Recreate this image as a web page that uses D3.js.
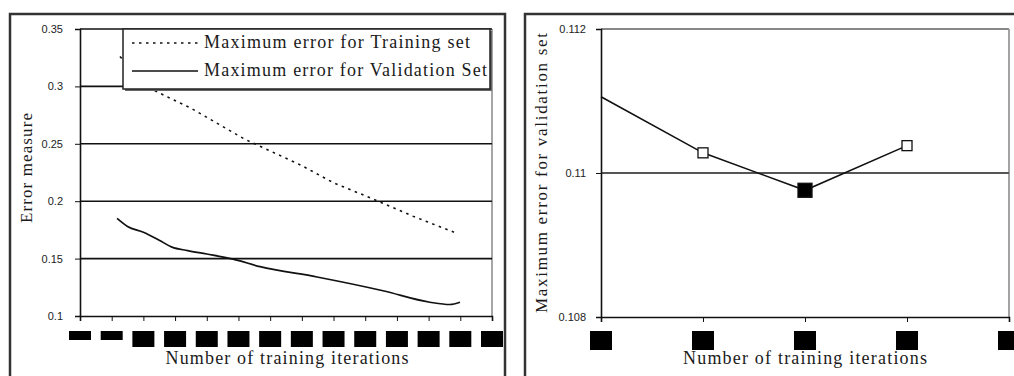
<!DOCTYPE html>
<html>
<head>
<meta charset="utf-8">
<script src="https://cdn.jsdelivr.net/npm/d3@7"></script>
<style>
  body { margin: 0; background: #fff; }
  svg { display: block; }
  .serif { font-family: "Liberation Serif", "DejaVu Serif", serif; fill: #1a1a1a; }
  .tick text { font-family: "Liberation Sans", Arial, sans-serif; font-size: 11px; fill: #222; }
</style>
</head>
<body>
<svg id="chart" width="1014" height="376"></svg>
<script>
// ----- Data ------------------------------------------------------------------
// left panel: error vs training iterations (x in tick units, labels unreadable)
const leftTicks = d3.range(0, 14);
const leftYTicks = [0.1, 0.15, 0.2, 0.25, 0.3, 0.35];
const trainErr = [
    [1.26, 0.326], [2.3, 0.297], [3.5, 0.281], [5.2, 0.254], [7.0, 0.231],
    [8.0, 0.216], [9.2, 0.2025], [10.5, 0.187], [11.8, 0.173]
];
const validErr = [
    [1.17, 0.185], [1.5, 0.178], [2.0, 0.173], [2.5, 0.166], [2.9, 0.160],
    [3.4, 0.157], [4.0, 0.154], [4.83, 0.1495], [5.68, 0.143], [7.48, 0.134],
    [9.56, 0.122], [11.04, 0.112], [11.67, 0.110], [11.99, 0.112]
];
const legendLabels = ["Maximum error for Training set", "Maximum error for Validation Set"];

// right panel: max validation error at a few iteration counts
const rightTicks = d3.range(0, 5);
const rightYTicks = [0.108, 0.11, 0.112];
const rightX = [0, 1, 2, 3];
const rightVal = [0.11106, 0.11028, 0.10976, 0.11038];
const rightMark = ["none", "open", "filled", "open"];

const svg = d3.select("#chart");

// ----- frames ------------------------------------------------------------------
svg.append("rect").attr("x", 10).attr("y", 14).attr("width", 495).attr("height", 380)
    .attr("fill", "none").attr("stroke", "#333").attr("stroke-width", 2.5);
svg.append("rect").attr("x", 525).attr("y", 14).attr("width", 500).attr("height", 380)
    .attr("fill", "none").attr("stroke", "#333").attr("stroke-width", 2.5);

// ----- left panel -------------------------------------------------------------
const xL = d3.scaleLinear().domain([0, 13]).range([80, 492]);
const yL = d3.scaleLinear().domain([0.1, 0.35]).range([316, 29]);
const gL = svg.append("g");

// plot border right side (gray)
gL.append("line").attr("x1", xL(13)).attr("x2", xL(13)).attr("y1", yL(0.35)).attr("y2", yL(0.1))
    .attr("stroke", "#888").attr("stroke-width", 1.5);

// gridlines
gL.selectAll("line.grid").data(leftYTicks.filter((d) => d > 0.1)).join("line")
    .attr("class", "grid")
    .attr("x1", xL(0)).attr("x2", xL(13))
    .attr("y1", (d) => yL(d)).attr("y2", (d) => yL(d))
    .attr("stroke", "#111").attr("stroke-width", 1.6);

// y axis
const yAxisL = gL.append("g").attr("transform", `translate(${xL(0)},0)`)
    .call(d3.axisLeft(yL).tickValues(leftYTicks).tickSize(5).tickPadding(12).tickFormat((d) => String(+d.toFixed(2))));
yAxisL.select(".domain").attr("stroke", "#111").attr("stroke-width", 1.6);
yAxisL.selectAll(".tick line").attr("stroke", "#111");

// x axis
const xAxisL = gL.append("g").attr("transform", `translate(0,${yL(0.1)})`)
    .call(d3.axisBottom(xL).tickValues(leftTicks).tickSize(5).tickFormat(""));
xAxisL.select(".domain").attr("stroke", "#111").attr("stroke-width", 1.6);
xAxisL.selectAll(".tick line").attr("stroke", "#111");

// tick label boxes (glyphs did not render in original)
gL.selectAll("rect.tl").data(leftTicks).join("rect")
    .attr("class", "tl")
    .attr("x", (d) => xL(d) - 11).attr("y", 331)
    .attr("width", 22).attr("height", (d) => (d < 2 ? 9 : 16))
    .attr("fill", "#000");

// lines
const lineL = d3.line().x((d) => xL(d[0])).y((d) => yL(d[1]));
gL.append("path").datum(trainErr).attr("d", lineL)
    .attr("fill", "none").attr("stroke", "#111").attr("stroke-width", 1.6)
    .attr("stroke-dasharray", "2.5,4.5");
gL.append("path").datum(validErr).attr("d", lineL.curve(d3.curveMonotoneX))
    .attr("fill", "none").attr("stroke", "#111").attr("stroke-width", 1.7);

// legend
const lg = gL.append("g");
lg.append("rect").attr("x", 125).attr("y", 31).attr("width", 367).attr("height", 60).attr("fill", "#666");
lg.append("rect").attr("x", 123).attr("y", 29).attr("width", 367).attr("height", 60)
    .attr("fill", "#fff").attr("stroke", "#222").attr("stroke-width", 1.5);
lg.append("line").attr("x1", 132).attr("x2", 198).attr("y1", 43).attr("y2", 43)
    .attr("stroke", "#111").attr("stroke-width", 1.6).attr("stroke-dasharray", "2.5,4.5");
lg.append("line").attr("x1", 132).attr("x2", 198).attr("y1", 71).attr("y2", 71)
    .attr("stroke", "#111").attr("stroke-width", 1.6);
lg.selectAll("text").data(legendLabels).join("text")
    .attr("class", "serif")
    .attr("x", 204).attr("y", (d, i) => 48 + i * 28)
    .attr("font-size", 18)
    .attr("textLength", (d, i) => (i === 0 ? 266 : 283))
    .attr("lengthAdjust", "spacing")
    .text((d) => d);

// axis titles
gL.append("text").attr("class", "serif")
    .attr("transform", "translate(32,168) rotate(-90)")
    .attr("text-anchor", "middle").attr("font-size", 17)
    .attr("textLength", 110).attr("lengthAdjust", "spacing")
    .text("Error measure");
gL.append("text").attr("class", "serif")
    .attr("x", 287).attr("y", 364)
    .attr("text-anchor", "middle").attr("font-size", 18)
    .attr("textLength", 243).attr("lengthAdjust", "spacing")
    .text("Number of training iterations");

// ----- right panel ------------------------------------------------------------
const xR = d3.scaleLinear().domain([0, 4]).range([601, 1009]);
const yR = d3.scaleLinear().domain([0.108, 0.112]).range([317, 29]);
const gR = svg.append("g");

// plot border (gray top + right)
gR.append("line").attr("x1", xR(0)).attr("x2", xR(4)).attr("y1", yR(0.112)).attr("y2", yR(0.112))
    .attr("stroke", "#888").attr("stroke-width", 1.8);
gR.append("line").attr("x1", xR(4)).attr("x2", xR(4)).attr("y1", yR(0.112)).attr("y2", yR(0.108))
    .attr("stroke", "#999").attr("stroke-width", 1.8);
gR.append("line").attr("x1", xR(0)).attr("x2", xR(4)).attr("y1", yR(0.11)).attr("y2", yR(0.11))
    .attr("stroke", "#555").attr("stroke-width", 1.8);

const yAxisR = gR.append("g").attr("transform", `translate(${xR(0)},0)`)
    .call(d3.axisLeft(yR).tickValues(rightYTicks).tickSize(5).tickPadding(10).tickFormat((d) => String(+d.toFixed(3))));
yAxisR.select(".domain").attr("stroke", "#111").attr("stroke-width", 1.6);
yAxisR.selectAll(".tick line").attr("stroke", "#111");

const xAxisR = gR.append("g").attr("transform", `translate(0,${yR(0.108)})`)
    .call(d3.axisBottom(xR).tickValues(rightTicks).tickSize(5).tickFormat(""));
xAxisR.select(".domain").attr("stroke", "#111").attr("stroke-width", 1.6);
xAxisR.selectAll(".tick line").attr("stroke", "#111");

gR.selectAll("rect.tl").data(rightTicks).join("rect")
    .attr("class", "tl")
    .attr("x", (d) => xR(d) - 11).attr("y", 331)
    .attr("width", 22).attr("height", 19)
    .attr("fill", "#000");

const ptsR = rightX.map((x, i) => ({ x, v: rightVal[i], m: rightMark[i] }));
gR.append("path").datum(ptsR)
    .attr("d", d3.line().x((d) => xR(d.x)).y((d) => yR(d.v)))
    .attr("fill", "none").attr("stroke", "#111").attr("stroke-width", 1.6);
gR.selectAll("rect.mk").data(ptsR.filter((d) => d.m !== "none")).join("rect")
    .attr("class", "mk")
    .attr("x", (d) => xR(d.x) - (d.m === "filled" ? 7 : 5))
    .attr("y", (d) => yR(d.v) - (d.m === "filled" ? 7 : 5))
    .attr("width", (d) => (d.m === "filled" ? 14 : 10))
    .attr("height", (d) => (d.m === "filled" ? 14 : 10))
    .attr("fill", (d) => (d.m === "filled" ? "#000" : "#fff"))
    .attr("stroke", "#111").attr("stroke-width", 1.3);

gR.append("text").attr("class", "serif")
    .attr("transform", "translate(547,173) rotate(-90)")
    .attr("text-anchor", "middle").attr("font-size", 17)
    .attr("textLength", 280).attr("lengthAdjust", "spacing")
    .text("Maximum error for validation set");
gR.append("text").attr("class", "serif")
    .attr("x", 805).attr("y", 364)
    .attr("text-anchor", "middle").attr("font-size", 18)
    .attr("textLength", 244).attr("lengthAdjust", "spacing")
    .text("Number of training iterations");
</script>
</body>
</html>
